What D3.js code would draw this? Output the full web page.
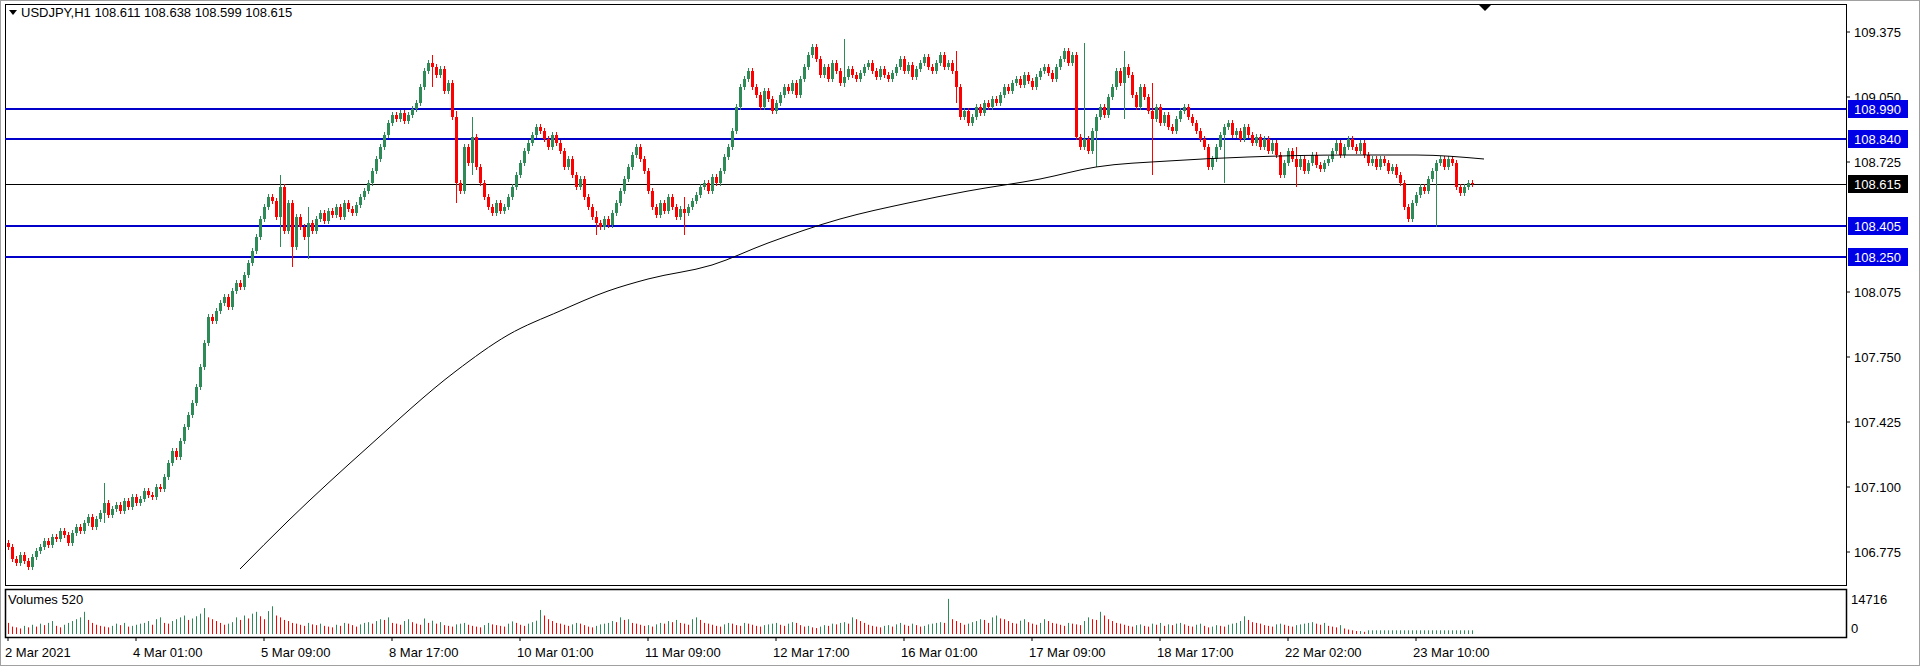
<!DOCTYPE html>
<html><head><meta charset="utf-8">
<script src="https://cdn.jsdelivr.net/npm/d3@7"></script>
<style>body{margin:0;background:#fff}svg{font-family:"Liberation Sans",Arial,sans-serif;font-size:13px}</style>
</head><body><svg id="c" width="1920" height="666"></svg>
<script>
// closes, one per H1 bar (open = previous close)
const closes = [
106.80,106.74,106.72,106.76,106.73,106.70,106.75,106.78,106.80,106.83,106.81,106.85,106.84,106.88,106.86,106.82,106.87,106.90,
106.88,106.92,106.95,106.90,106.94,106.97,107.02,106.96,106.99,107.01,106.98,107.03,107.00,107.05,107.02,107.04,107.08,107.06,107.05,107.10,107.09,
107.15,107.22,107.28,107.25,107.33,107.40,107.46,107.52,107.60,107.70,107.82,107.95,
107.93,107.98,108.02,108.05,108.00,108.08,108.12,108.10,108.16,108.22,108.28,108.35,108.44,108.50,108.55,108.53,
108.45,108.60,108.38,108.52,108.30,108.45,108.40,108.35,108.42,108.38,108.44,108.47,108.43,108.48,108.46,108.50,108.45,108.52,108.49,108.47,108.51,
108.55,108.58,108.62,108.68,108.74,108.80,108.86,108.92,108.96,108.94,108.97,108.93,108.96,108.99,109.02,109.10,109.18,109.22,109.20,109.16,
109.19,109.08,109.12,108.95,108.62,108.58,108.80,108.72,108.85,108.70,108.62,108.55,108.50,108.47,108.52,108.48,108.50,
108.55,108.60,108.66,108.72,108.78,108.82,108.86,108.90,108.88,108.84,108.80,108.86,108.82,108.78,108.70,108.74,108.66,108.60,108.64,108.55,108.50,108.45,108.42,108.40,
108.44,108.41,108.47,108.52,108.58,108.64,108.70,108.76,108.80,108.74,108.68,108.58,108.50,108.46,108.52,108.48,108.55,108.50,108.45,108.49,108.47,108.50,
108.53,108.56,108.60,108.62,108.58,108.65,108.62,108.68,108.75,108.80,108.88,109.00,109.10,109.14,109.18,109.10,109.06,109.00,109.08,109.04,108.98,109.02,109.06,
109.10,109.08,109.12,109.06,109.14,109.20,109.26,109.30,109.24,109.16,109.20,109.14,109.22,109.18,109.12,109.15,109.19,109.16,109.14,109.17,109.20,109.22,
109.18,109.15,109.19,109.16,109.14,109.17,109.20,109.24,109.18,109.21,109.15,109.19,109.22,109.25,109.20,109.18,109.22,109.26,109.20,109.22,109.18,109.10,108.95,108.98,108.92,
108.95,109.00,108.97,109.02,109.00,109.04,109.02,109.06,109.10,109.08,109.12,109.14,109.11,109.16,109.13,109.10,109.15,109.18,109.20,109.17,109.14,109.20,109.24,109.28,109.22,109.26,
108.85,108.80,108.84,108.78,108.88,108.95,109.00,108.96,109.05,109.10,109.18,109.12,109.20,109.16,109.06,109.00,109.10,109.05,108.98,108.94,109.00,108.92,108.96,108.90,108.88,108.94,108.98,109.00,108.95,108.92,108.88,108.84,108.80,108.70,
108.74,108.80,108.86,108.90,108.92,108.86,108.88,108.84,108.90,108.86,108.82,108.85,108.80,108.84,108.78,108.82,108.76,108.66,108.72,108.78,108.74,108.70,108.74,108.68,108.72,108.76,108.71,108.69,108.72,108.74,
108.78,108.82,108.76,108.80,108.84,108.80,108.78,108.82,108.76,108.72,108.74,108.70,108.74,108.72,108.68,108.70,108.66,108.62,108.50,108.44,108.52,108.56,108.60,108.58,108.64,108.68,108.72,108.74,108.70,108.74,108.72,108.60,108.57,108.60,108.62,108.615
];
// extra-long wicks seen on the chart: [bar, high, low]
const spikes = [[24,107.12,106.92],[68,108.66,108.30],[71,108.48,108.20],[75,108.50,108.24],[106,109.26,109.10],[112,108.98,108.52],
  [116,108.95,108.66],[147,108.48,108.36],[169,108.55,108.36],[209,109.34,109.10],[237,109.28,109.02],[269,109.32,109.18],
  [272,108.92,108.70],[279,109.28,108.94],[286,109.12,108.66],[304,108.86,108.62],[322,108.80,108.60],[357,108.58,108.40]];
// volumes (tick volume, hundreds)
const volumes = [
30,20,18,15,22,18,25,20,28,24,30,35,22,18,25,30,35,40,45,60,38,30,25,22,20,18,22,28,24,30,20,22,25,28,30,35,25,40,45,30,
28,35,40,45,50,38,42,48,55,70,45,40,35,30,25,28,32,45,38,50,42,55,60,48,40,62,75,50,45,38,35,30,28,25,22,30,26,24,28,22,
20,18,25,22,30,28,24,20,26,30,32,28,35,40,38,45,30,28,25,35,40,32,28,25,42,30,36,28,32,24,22,20,26,28,30,25,22,20,18,24,
30,26,24,22,20,28,34,30,25,22,28,32,36,65,50,40,35,30,28,25,22,26,30,28,24,20,18,22,26,28,30,35,32,45,38,40,30,28,25,22,
24,20,26,30,28,35,32,38,30,28,25,40,45,38,30,28,25,22,20,26,30,28,24,22,30,28,25,22,20,24,26,28,30,25,22,28,32,30,24,20,
22,18,16,20,24,22,28,26,30,32,28,45,40,35,30,25,22,20,18,22,24,20,26,30,25,22,28,24,20,22,26,28,30,32,30,95,40,35,30,25,
28,32,35,40,38,30,45,50,42,40,35,30,28,36,40,32,28,25,30,40,35,30,28,25,22,30,28,26,24,35,45,40,38,60,50,40,35,30,28,25,
22,20,24,26,22,20,28,25,30,22,26,24,28,30,26,22,20,25,28,22,18,20,24,22,20,25,28,30,35,48,38,32,30,28,24,22,20,26,28,25,
22,20,24,26,28,30,32,28,25,30,22,20,18,24,15,12,10,8,8,6
];
// SMA(200) read at a few bars: [bar, price]
const maPts = [[58,106.69],[70,106.93],[90,107.30],[112,107.68],[125,107.86],[138,107.98],[150,108.08],[160,108.14],[176,108.21],
  [190,108.32],[208,108.44],[225,108.52],[240,108.58],[258,108.64],[272,108.70],[290,108.73],[310,108.75],[335,108.76],[352,108.76],[369,108.74]];
const levels = [108.990, 108.840, 108.405, 108.250];
const current = 108.615;
const priceTicks = [109.375, 109.050, 108.725, 108.075, 107.750, 107.425, 107.100, 106.775];
const timeLabels = ["2 Mar 2021","4 Mar 01:00","5 Mar 09:00","8 Mar 17:00","10 Mar 01:00","11 Mar 09:00","12 Mar 17:00","16 Mar 01:00","17 Mar 09:00","18 Mar 17:00","22 Mar 02:00","23 Mar 10:00"];
const labelEvery = 32;

const svg = d3.select("#c");
const L = 5, R = 1846, T = 4, B = 585, VT = 589, VB = 637;
const n = closes.length;
const x = d3.scaleLinear().domain([0, 1]).range([8, 12]); // 4px per bar
const y = d3.scaleLinear().domain([109.375, 106.775]).range([32, 552]);
const yv = d3.scaleLinear().domain([0, 14716]).range([634, 600]);

const bars = closes.map((c, i) => {
  const o = i ? closes[i - 1] : c + 0.02;
  let h = Math.max(o, c) + 0.015, l = Math.min(o, c) - 0.015;
  const s = spikes.find(d => d[0] === i);
  if (s) { h = Math.max(h, s[1]); l = Math.min(l, s[2]); }
  return {i, o, h, l, c, v: (volumes[i] || 10) * 160};
});

// frames
svg.append("rect").attr("x", 0.5).attr("y", 0.5).attr("width", 1919).attr("height", 665).attr("fill", "none").attr("stroke", "#a0a0a0");
svg.append("rect").attr("x", L + .5).attr("y", T + .5).attr("width", R - L).attr("height", B - T).attr("fill", "none").attr("stroke", "#000");
svg.append("rect").attr("x", L + .5).attr("y", VT + .5).attr("width", R - L).attr("height", VB - VT).attr("fill", "none").attr("stroke", "#000").attr("stroke-width", 1.5);

const main = svg.append("g");
// levels
main.selectAll(".lv").data(levels).join("line")
  .attr("x1", L).attr("x2", R).attr("y1", d => y(d)).attr("y2", d => y(d))
  .attr("stroke", "#0000c8").attr("stroke-width", 2);
main.append("line").attr("x1", L).attr("x2", R).attr("y1", Math.round(y(current)) + .5).attr("y2", Math.round(y(current)) + .5).attr("stroke", "#000");

// candles
const cg = main.append("g");
cg.selectAll("line").data(bars).join("line")
  .attr("x1", d => x(d.i) + .5).attr("x2", d => x(d.i) + .5)
  .attr("y1", d => y(d.h)).attr("y2", d => y(d.l))
  .attr("stroke", d => d.c >= d.o ? "#2e8b57" : "#ff0000");
cg.selectAll("rect").data(bars).join("rect")
  .attr("x", d => x(d.i) - 1).attr("width", 3)
  .attr("y", d => y(Math.max(d.o, d.c))).attr("height", d => Math.max(1, Math.abs(y(d.o) - y(d.c))))
  .attr("fill", d => d.c >= d.o ? "#2e8b57" : "#ff0000");

// moving average
main.append("path").datum(maPts)
  .attr("d", d3.line().x(d => x(d[0])).y(d => y(d[1])).curve(d3.curveMonotoneX))
  .attr("fill", "none").attr("stroke", "#000").attr("stroke-width", 1);

// price axis
const ax = svg.append("g");
ax.selectAll("line").data(priceTicks).join("line")
  .attr("x1", R).attr("x2", R + 4).attr("y1", d => y(d)).attr("y2", d => y(d)).attr("stroke", "#000");
ax.selectAll("text").data(priceTicks).join("text")
  .attr("x", R + 8).attr("y", d => y(d) + 5).text(d => d.toFixed(3));
const lbl = svg.append("g");
const tags = levels.map(v => ({v, bg: "#0000e6"})).concat([{v: current, bg: "#000"}]);
lbl.selectAll("rect").data(tags).join("rect")
  .attr("x", R + 2).attr("y", d => y(d.v) - 9).attr("width", 60).attr("height", 18).attr("fill", d => d.bg);
lbl.selectAll("text").data(tags).join("text")
  .attr("x", R + 8).attr("y", d => y(d.v) + 5).attr("fill", "#fff").text(d => d.v.toFixed(3));

// title and marker
svg.append("path").attr("d", "M9,10 L17,10 L13,15 Z").attr("fill", "#000");
svg.append("text").attr("x", 21).attr("y", 17).text("USDJPY,H1  108.611 108.638 108.599 108.615");
svg.append("path").attr("d", `M${x(n - 1) + 6},4 l14,0 l-7,7 Z`).attr("fill", "#000");

// volumes
const vg = svg.append("g");
vg.selectAll("line").data(bars).join("line")
  .attr("x1", d => x(d.i) + .5).attr("x2", d => x(d.i) + .5)
  .attr("y1", d => yv(d.v)).attr("y2", yv(0))
  .attr("stroke", (d, i) => i && d.v >= bars[i - 1].v ? "#2e8b57" : "#ff0000");
svg.append("text").attr("x", 8).attr("y", 604).text("Volumes 520");
svg.append("text").attr("x", R + 5).attr("y", 604).text("14716");
svg.append("text").attr("x", R + 5).attr("y", 633).text("0");

// time axis
const tg = svg.append("g");
tg.selectAll("line").data(timeLabels).join("line")
  .attr("x1", (d, i) => x(i * labelEvery)).attr("x2", (d, i) => x(i * labelEvery))
  .attr("y1", VB).attr("y2", VB + 4).attr("stroke", "#000");
tg.selectAll("text").data(timeLabels).join("text")
  .attr("x", (d, i) => x(i * labelEvery) - 3).attr("y", 657).text(d => d);
</script></body></html>
